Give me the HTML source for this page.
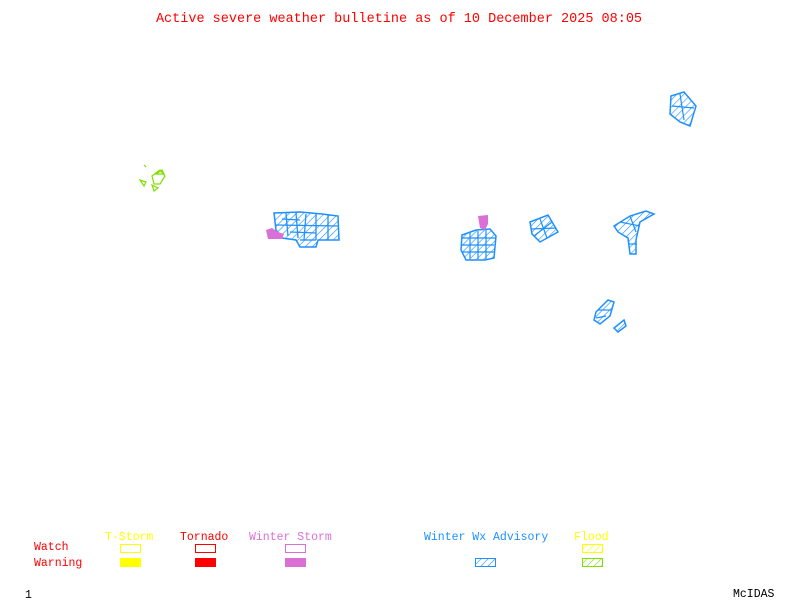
<!DOCTYPE html>
<html><head><style>
html,body{margin:0;padding:0;background:#fff;}
svg{display:block;}
text{font-family:"Liberation Mono",monospace;}
</style></head><body>
<svg width="800" height="600" viewBox="0 0 800 600" xmlns="http://www.w3.org/2000/svg">
<defs>
<pattern id="hb" width="5" height="5" patternUnits="userSpaceOnUse" patternTransform="rotate(45)">
<line x1="0" y1="0" x2="0" y2="5" stroke="#1e90ff" stroke-width="1.2"/>
</pattern>
<pattern id="hy" width="5" height="5" patternUnits="userSpaceOnUse" patternTransform="rotate(45)">
<line x1="0" y1="0" x2="0" y2="5" stroke="#ffff00" stroke-width="1.2"/>
</pattern>
<pattern id="hg" width="5" height="5" patternUnits="userSpaceOnUse" patternTransform="rotate(45)">
<line x1="0" y1="0" x2="0" y2="5" stroke="#7fdf00" stroke-width="1.2"/>
</pattern>
</defs>
<rect width="800" height="600" fill="#fff"/>
<text x="399" y="22" font-size="13.5" fill="#ff0000" text-anchor="middle">Active severe weather bulletine as of 10 December 2025 08:05</text>

<!-- western cluster -->
<g fill="url(#hb)" stroke="#1e90ff" stroke-width="1.5">
<polygon points="274,213 300,212 322,214 338,216 339,240 318,240 316,247 300,247 296,240 282,238 276,230"/>
</g>
<g fill="none" stroke="#1e90ff" stroke-width="1.3">
<line x1="286" y1="213" x2="288" y2="236"/>
<line x1="296" y1="213" x2="298" y2="238"/>
<line x1="306" y1="214" x2="304" y2="240"/>
<line x1="316" y1="214" x2="316" y2="240"/>
<line x1="328" y1="215" x2="328" y2="240"/>
<line x1="276" y1="225" x2="338" y2="226"/>
<line x1="282" y1="219" x2="300" y2="220"/>
<line x1="290" y1="232" x2="316" y2="233"/>
<line x1="300" y1="240" x2="316" y2="240"/>
</g>
<polygon points="266,230 272,228 278,232 284,234 282,239 268,239" fill="#da70d6"/>

<!-- central cluster -->
<g fill="url(#hb)" stroke="#1e90ff" stroke-width="1.5">
<polygon points="462,235 476,230 490,229 496,236 494,258 485,260 466,260 461,250"/>
<polygon points="530,222 548,215 558,232 540,242 532,234"/>
<polygon points="614,226 630,216 646,211 654,214 640,222 636,240 636,254 630,254 628,238 618,232"/>
<polygon points="671,96 684,92 696,106 690,126 680,122 670,114"/>
<polygon points="596,312 608,300 614,302 610,316 600,324 594,320"/>
<polygon points="614,328 624,320 626,326 618,332"/>
</g>
<g fill="none" stroke="#1e90ff" stroke-width="1.2">
<line x1="462" y1="245" x2="494" y2="245"/>
<line x1="478" y1="231" x2="478" y2="259"/>
<line x1="470" y1="232" x2="470" y2="259"/>
<line x1="486" y1="230" x2="486" y2="259"/>
<line x1="462" y1="238" x2="495" y2="238"/>
<line x1="462" y1="252" x2="494" y2="252"/>
<line x1="531" y1="229" x2="556" y2="228"/>
<line x1="540" y1="219" x2="547" y2="238"/>
<line x1="534" y1="236" x2="552" y2="222"/>
<line x1="620" y1="222" x2="640" y2="226"/>
<line x1="630" y1="216" x2="636" y2="232"/>
<line x1="628" y1="244" x2="637" y2="244"/>
<line x1="672" y1="106" x2="694" y2="108"/>
<line x1="680" y1="94" x2="684" y2="120"/>
<line x1="598" y1="310" x2="612" y2="310"/>
<line x1="596" y1="318" x2="606" y2="316"/>
</g>
<polygon points="478,216 488,215 488,224 485,230 480,228" fill="#da70d6"/>

<!-- green -->
<g fill="none" stroke="#7fdf00" stroke-width="1.2">
<polygon points="152,176 160,170 165,176 160,184 154,184"/>
<polygon points="156,174 162,170 164,174"/>
<polygon points="140,180 146,182 144,186"/>
<polygon points="152,185 158,188 154,191"/>
<line x1="144" y1="165" x2="146" y2="167"/>
</g>

<!-- legend -->
<g font-size="11.5">
<text x="105" y="540" fill="#ffff00">T-Storm</text>
<text x="180" y="540" fill="#ff0000">Tornado</text>
<text x="249" y="540" fill="#da70d6">Winter Storm</text>
<text x="424" y="540" fill="#1e90ff">Winter Wx Advisory</text>
<text x="574" y="540" fill="#ffff00">Flood</text>
<text x="34" y="550" fill="#ff0000">Watch</text>
<text x="34" y="566" fill="#ff0000">Warning</text>
<text x="25" y="598" fill="#000">1</text>
<text x="733" y="597" fill="#000">McIDAS</text>
</g>
<rect x="120.5" y="544.5" width="20" height="8" fill="none" stroke="#ffff00"/>
<rect x="120" y="558" width="21" height="9" fill="#ffff00"/>
<rect x="195.5" y="544.5" width="20" height="8" fill="none" stroke="#ff0000"/>
<rect x="195" y="558" width="21" height="9" fill="#ff0000"/>
<rect x="285.5" y="544.5" width="20" height="8" fill="none" stroke="#da70d6"/>
<rect x="285" y="558" width="21" height="9" fill="#da70d6"/>
<rect x="475.5" y="558.5" width="20" height="8" fill="url(#hb)" stroke="#1e90ff"/>
<rect x="582.5" y="544.5" width="20" height="8" fill="url(#hy)" stroke="#ffff00"/>
<rect x="582.5" y="558.5" width="20" height="8" fill="url(#hg)" stroke="#7fdf00"/>
</svg>
</body></html>
